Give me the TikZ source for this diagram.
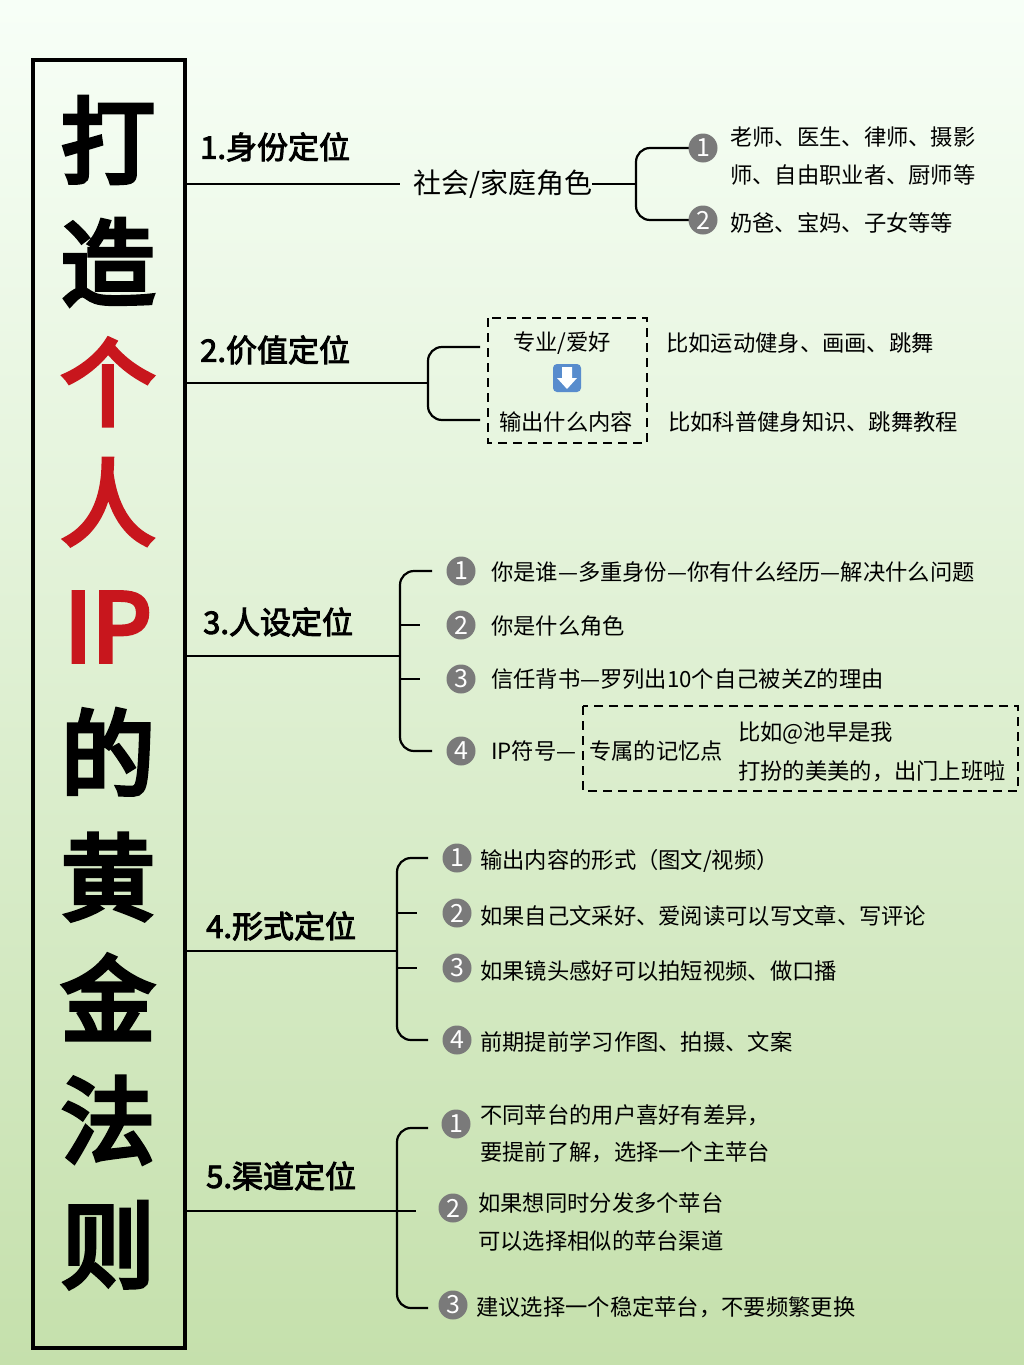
\documentclass[tikz,border=0pt]{standalone}
\usepackage{fontspec}
\newfontfamily\cjk{Noto Sans CJK SC}
\newfontfamily\cjkb{Noto Sans CJK SC}[FakeBold=3]
\newfontfamily\cjkbb{Noto Sans CJK SC}[FakeBold=5]
\usetikzlibrary{calc}
\definecolor{ttred}{HTML}{C8161D}
\definecolor{cgrey}{HTML}{7A7A7A}
\tikzset{
  sec/.style={anchor=west,font=\cjkb\fontsize{31}{34}\selectfont,inner sep=0pt},
  itm/.style={anchor=west,font=\cjk\fontsize{22.3}{24}\selectfont,inner sep=0pt},
  big/.style={font=\cjkbb\fontsize{94}{98}\selectfont,inner sep=0pt},
  num/.style={circle,fill=cgrey,text=white,minimum size=29pt,inner sep=0pt,font=\cjk\fontsize{25}{25}\selectfont},
  ln/.style={line width=2.2pt,black},
  br/.style={line width=2.2pt,black,rounded corners=14pt},
  dbox/.style={draw,dashed,line width=2.2pt,dash pattern=on 9pt off 6pt}
}
\begin{document}
\begin{tikzpicture}[x=1pt,y=-1pt]
\shade[top color=green!3!white, bottom color={rgb,255:red,197;green,224;blue,172}] (0,0) rectangle (1024,1365);
\useasboundingbox (0,0) rectangle (1024,1365);
% title box
\draw[line width=3.2pt] (33,60) rectangle (185,1348);
\node[big] (t1) at (108,140) {打};
\node[big] (t2) at (108,262) {造};
\node[big,text=ttred] (t3) at (108,382) {个};
\node[big,text=ttred] (t4) at (108,502) {人};
\node[big,text=ttred] (t5) at (108,627) {IP};
\node[big] (t6) at (108,752) {的};
\node[big] (t7) at (108,877) {黄};
\node[big] (t8) at (108,997) {金};
\node[big] (t9) at (108,1120) {法};
\node[big] (t10) at (108,1245) {则};

% Section 1
\node[sec] (s1) at (200,147) {1.身份定位};
\coordinate (s1a) at (185,184);
\node[anchor=west,font=\cjk\fontsize{28}{30}\selectfont,inner sep=0pt] (r1) at (413,184) {社会/家庭角色};
\draw[ln] (s1a) -- (400,184);
\draw[ln] (r1.east) -- (636,184);
\draw[br] (690,148) -- (636,148) -- (636,220) -- (690,220);
\node[num] (n11) at (703,148) {1};
\node[num] (n12) at (703,220) {2};
\node[itm] (i11) at (730,137) {老师、医生、律师、摄影};
\node[itm] (i11b) at (730,175) {师、自由职业者、厨师等};
\node[itm] (i12) at (730,223) {奶爸、宝妈、子女等等};

% Section 2
\node[sec] (s2) at (200,350) {2.价值定位};
\draw[ln] (185,383) -- (428,383);
\draw[br] (480,347) -- (428,347) -- (428,420) -- (480,420);
\draw[dbox] (488,318) rectangle (647,443);
\node[itm,anchor=center] (v1) at (562,343) {专业/爱好};
\node[itm,anchor=center] (v2) at (566,422) {输出什么内容};
\node[fill={rgb,255:red,88;green,140;blue,205},rounded corners=4pt,minimum size=28pt,inner sep=0pt] (arr) at (567,378) {};
\fill[white] (562,367) rectangle (572,378) -- (577,378) -- (567,389) -- (557,378) -- (562,378);
\node[itm] (v1r) at (666,343) {比如运动健身、画画、跳舞};
\node[itm] (v2r) at (668,422) {比如科普健身知识、跳舞教程};

% Section 3
\node[sec] (s3) at (203,622) {3.人设定位};
\draw[ln] (185,656) -- (400,656);
\draw[br] (432,571) -- (400,571) -- (400,751) -- (432,751);
\draw[ln] (400,625) -- (420,625);
\draw[ln] (400,679) -- (420,679);
\node[num] (n31) at (461,571) {1};
\node[num] (n32) at (461,625) {2};
\node[num] (n33) at (461,679) {3};
\node[num] (n34) at (461,751) {4};
\node[itm] (i31) at (491,572) {你是谁—多重身份—你有什么经历—解决什么问题};
\node[itm] (i32) at (491,626) {你是什么角色};
\node[itm] (i33) at (491,679) {信任背书—罗列出10个自己被关Z的理由};
\node[itm] (i34) at (491,751) {IP符号—};
\draw[dbox] (583,706) rectangle (1018,791);
\node[itm] (i35) at (589,751) {专属的记忆点};
\node[itm] (i36) at (738,733) {比如@池早是我};
\node[itm] (i37) at (738,771) {打扮的美美的，出门上班啦};

% Section 4
\node[sec] (s4) at (206,926) {4.形式定位};
\draw[ln] (185,951) -- (397,951);
\draw[br] (428,858) -- (397,858) -- (397,1040) -- (428,1040);
\draw[ln] (397,913) -- (417,913);
\draw[ln] (397,968) -- (417,968);
\node[num] (n41) at (457,858) {1};
\node[num] (n42) at (457,913) {2};
\node[num] (n43) at (457,968) {3};
\node[num] (n44) at (457,1040) {4};
\node[itm] (i41) at (480,861) {输出内容的形式（图文/视频）};
\node[itm] (i42) at (480,916) {如果自己文采好、爱阅读可以写文章、写评论};
\node[itm] (i43) at (480,971) {如果镜头感好可以拍短视频、做口播};
\node[itm] (i44) at (480,1042) {前期提前学习作图、拍摄、文案};

% Section 5
\node[sec] (s5) at (206,1176) {5.渠道定位};
\draw[ln] (185,1211) -- (416,1211);
\draw[br] (428,1128) -- (397,1128) -- (397,1308) -- (428,1308);
\node[num] (n51) at (456,1124) {1};
\node[num] (n52) at (453,1208) {2};
\node[num] (n53) at (453,1305) {3};
\node[itm] (i51) at (480,1115) {不同苹台的用户喜好有差异，};
\node[itm] (i51b) at (480,1152) {要提前了解，选择一个主苹台};
\node[itm] (i52) at (478,1203) {如果想同时分发多个苹台};
\node[itm] (i52b) at (478,1241) {可以选择相似的苹台渠道};
\node[itm] (i53) at (476,1307) {建议选择一个稳定苹台，不要频繁更换};
\end{tikzpicture}
\end{document}
